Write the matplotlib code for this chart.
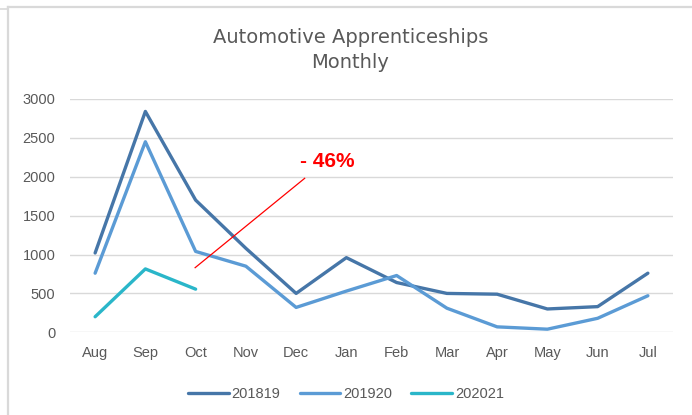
import matplotlib
matplotlib.use("Agg")
import matplotlib.pyplot as plt
from matplotlib.lines import Line2D

months = ["Aug", "Sep", "Oct", "Nov", "Dec", "Jan", "Feb", "Mar", "Apr", "May", "Jun", "Jul"]
s201819 = [1020, 2840, 1700, 1080, 500, 960, 640, 500, 490, 300, 330, 760]
s201920 = [760, 2450, 1040, 850, 320, 530, 730, 310, 70, 40, 180, 470]
s202021 = [200, 815, 555]
series_names = ["201819", "201920", "202021"]
y_ticks = [0, 500, 1000, 1500, 2000, 2500, 3000]
annotation_text = "- 46%"

colors = ["#4676A8", "#5B9BD5", "#2AB6C9"]
tick_color = "#595959"
grid_color = "#D9D9D9"

plt.rcParams['font.family'] = ['Liberation Sans', 'DejaVu Sans']

fig = plt.figure(figsize=(6.92, 4.15), dpi=100)
ax = fig.add_axes([70 / 692, 1 - 332.3 / 415, 603 / 692, 233.3 / 415])

x_all = list(range(len(months)))
for vals, name, c in zip([s201819, s201920, s202021], series_names, colors):
    ax.plot(x_all[:len(vals)], vals, color=c, lw=2.4, solid_capstyle='round',
            solid_joinstyle='round', label=name)

ax.set_xlim(-0.5, len(months) - 0.5)
ax.set_ylim(0, 3000)
ax.set_yticks(y_ticks)
ax.set_yticklabels([str(v) for v in y_ticks])
ax.set_xticks(x_all)
ax.set_xticklabels(months)
ax.grid(axis='y', color=grid_color, lw=1)
ax.set_axisbelow(True)
for sp in ax.spines.values():
    sp.set_visible(False)
ax.tick_params(axis='both', length=0, labelsize=10.5, colors=tick_color)
ax.tick_params(axis='y', pad=10.5)
ax.tick_params(axis='x', pad=10)

# annotation
ax.plot([1.99, 4.17], [831, 1980], color='red', lw=0.9)
ax.text(4.07, 2125, annotation_text, color='red', fontsize=15, fontweight='bold',
        ha='left', va='baseline')

# title
fig.text(350.5 / 692, 1 - 50 / 415, "Automotive Apprenticeships\nMonthly",
         ha='center', va='center', fontsize=14, color=tick_color,
         family='DejaVu Sans', linespacing=1.35)

# legend
handles, labels = ax.get_legend_handles_labels()
fig.legend(handles, labels, loc='center', bbox_to_anchor=(346 / 692, 1 - 394 / 415),
           ncol=3, frameon=False, fontsize=10.5, handlelength=2.8, handletextpad=0.2,
           columnspacing=1.3, labelcolor=tick_color)

# chart border lines
fig.add_artist(Line2D([7.5 / 692, 1.0], [1 - 7.5 / 415, 1 - 7.5 / 415],
                      transform=fig.transFigure, color=grid_color, lw=1.6))
fig.add_artist(Line2D([7.5 / 692, 7.5 / 692], [1 - 7.5 / 415, 0],
                      transform=fig.transFigure, color=grid_color, lw=1.6))
fig.add_artist(Line2D([0, 7.5 / 692], [1 - 9 / 415, 1 - 9 / 415],
                      transform=fig.transFigure, color=grid_color, lw=1.2))

fig.savefig("out.png", dpi=100)
